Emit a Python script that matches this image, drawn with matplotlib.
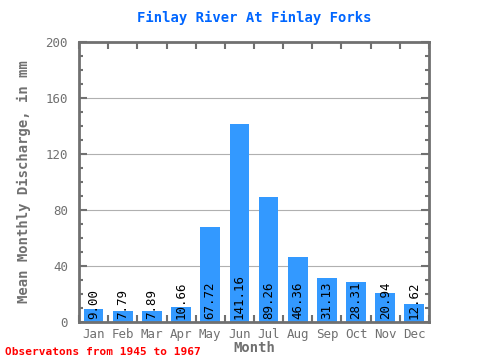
import numpy as np
import matplotlib.pyplot as plt

months = ['Jan', 'Feb', 'Mar', 'Apr', 'May', 'Jun', 'Jul', 'Aug', 'Sep', 'Oct', 'Nov', 'Dec']
discharge = [9.00, 7.79, 7.89, 10.66, 67.72, 141.16, 89.26, 46.36, 31.13, 28.31, 20.94, 12.62]
yticks = [0, 40, 80, 120, 160, 200]

mono = 'DejaVu Sans Mono'
grey = '#707070'

fig = plt.figure(figsize=(4.8, 3.6), dpi=100)
ax = fig.add_axes([79 / 480, 38 / 360, 350 / 480, 280 / 360])

x = np.arange(len(months))
ax.bar(x, discharge, width=0.68, color='#3399ff', zorder=2)
for xi, v in zip(x, discharge):
    ax.text(xi, 2, '%.2f' % v, rotation=90, ha='center', va='bottom',
            fontsize=9, family=mono, color='black', zorder=3)

ax.set_xlim(-0.5, 11.5)
ax.set_ylim(0, 200)
ax.set_yticks(yticks)
ax.set_yticks(np.arange(0, 201, 10), minor=True)
ax.yaxis.grid(True, color='#b0b0b0', linewidth=0.8, zorder=0)
ax.set_xticks(x)
ax.set_xticklabels(months)
ax.set_xticks(np.arange(-0.5, 12, 1), minor=True)

ax.tick_params(axis='x', which='major', length=0, pad=4, labelsize=9, labelcolor=grey)
ax.tick_params(axis='x', which='minor', length=5, width=1.5, direction='in',
               top=True, bottom=True, color=grey)
ax.tick_params(axis='y', which='major', length=6, width=1.5, direction='in',
               left=True, right=True, color=grey, labelsize=9, labelcolor=grey, pad=8)
ax.tick_params(axis='y', which='minor', length=3, width=1.5, direction='in',
               left=True, right=True, color=grey)
for lab in ax.get_xticklabels() + ax.get_yticklabels():
    lab.set_family(mono)
for s in ax.spines.values():
    s.set_color(grey)
    s.set_linewidth(2)

ax.set_xlabel('Month', family=mono, fontsize=10, fontweight='bold', color=grey, labelpad=0)
ax.set_ylabel('Mean Monthly Discharge, in mm', family=mono, fontsize=10,
              fontweight='bold', color=grey, labelpad=10)
fig.text(254 / 480, 1 - 18 / 360, 'Finlay River At Finlay Forks', ha='center', va='center',
         family=mono, fontsize=10, fontweight='bold', color='#0066ff')
fig.text(5 / 480, 1 - 352 / 360, 'Observatons from 1945 to 1967', ha='left', va='center',
         family=mono, fontsize=8, fontweight='bold', color='red')

fig.savefig('out.png', dpi=100)
